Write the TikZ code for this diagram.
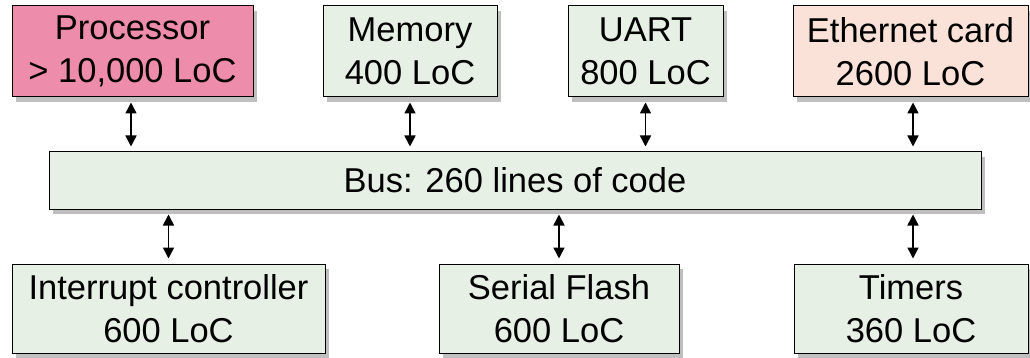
\documentclass[tikz,border=0pt]{standalone}
\usepackage{fontspec}
\setmainfont{Liberation Sans}
\usetikzlibrary{shadows,arrows.meta}
\definecolor{procpink}{RGB}{238,140,172}
\definecolor{ethpink}{RGB}{250,226,216}
\definecolor{boxgreen}{RGB}{230,240,228}
\tikzset{
  blk/.style={draw=black, line width=1pt, fill=boxgreen, inner sep=0pt, align=center,
    font=\fontsize{34.5}{43}\selectfont,
    drop shadow={opacity=0.5, shadow xshift=4pt, shadow yshift=-5pt}},
  link/.style={{Triangle[length=11pt,width=11pt]}-{Triangle[length=11pt,width=11pt]}, line width=1.6pt, shorten >=5pt, shorten <=5pt}
}
\begin{document}
\begin{tikzpicture}[x=1pt,y=-1pt]
\useasboundingbox (0,0) rectangle (1030,358);
\node[blk, fill=procpink, minimum width=241pt, minimum height=91pt] (proc) at (132.5,51.5) {Processor\\> 10,000 LoC};
\node[blk, minimum width=174pt, minimum height=91pt] (mem) at (410,51.5) {Memory\\400 LoC};
\node[blk, minimum width=155pt, minimum height=91pt] (uart) at (645.5,51.5) {UART\\800 LoC};
\node[blk, fill=ethpink, minimum width=235pt, minimum height=91pt] (eth) at (910.5,51.5) {Ethernet card\\2600 LoC};
\node[blk, minimum width=932pt, minimum height=57pt] (bus) at (515,180.5) {Bus: 260 lines of code};
\node[blk, minimum width=313pt, minimum height=89pt] (irq) at (168.5,308.5) {Interrupt controller\\600 LoC};
\node[blk, minimum width=240pt, minimum height=89pt] (flash) at (559,308.5) {Serial Flash\\600 LoC};
\node[blk, minimum width=234pt, minimum height=89pt] (tim) at (911,308.5) {Timers\\360 LoC};
\draw[link] (proc.south -| 131,0) -- (bus.north -| 131,0);
\draw[link] (mem.south) -- (bus.north -| mem.south);
\draw[link] (uart.south) -- (bus.north -| uart.south);
\draw[link] (eth.south -| 913,0) -- (bus.north -| 913,0);
\draw[link] (bus.south -| irq.north) -- (irq.north);
\draw[link] (bus.south -| flash.north) -- (flash.north);
\draw[link] (bus.south -| 913,0) -- (tim.north -| 913,0);
\end{tikzpicture}
\end{document}
